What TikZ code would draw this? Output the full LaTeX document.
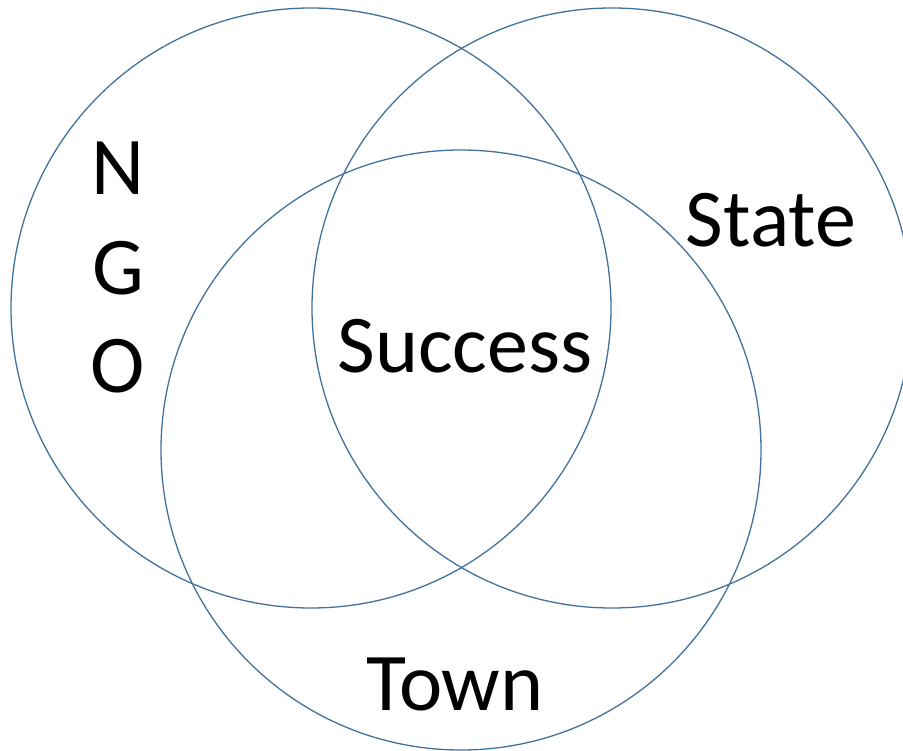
\documentclass[tikz,border=0pt]{standalone}
\usepackage{fontspec}
\setmainfont{Carlito}
\usepackage{tikz}
\definecolor{ringblue}{RGB}{65,113,156}

\begin{document}
\begin{tikzpicture}[
  x = 1pt, y = -1pt,
  ring/.style = {circle, draw = ringblue, line width = 1.3pt,
                 minimum size = 600pt, inner sep = 0pt},
  word/.style = {font = \fontsize{82}{82}\selectfont, inner sep = 0pt}
]

\useasboundingbox (0,0) rectangle (903,751);

\node [ring] (ngo)   at (311,308) {};
\node [ring] (state) at (612,308) {};
\node [ring] (town)  at (461,450) {};

\node [word] (n) at (118,168) {N};
\node [word] (g) at (118,268) {G};
\node [word] (o) at (118,366) {O};

\node [word] (statelabel)   at (771,220) {State};
\node [word] (successlabel) at (465,346) {Success};
\node [word] (townlabel)    at (455,684) {Town};

\end{tikzpicture}
\end{document}
